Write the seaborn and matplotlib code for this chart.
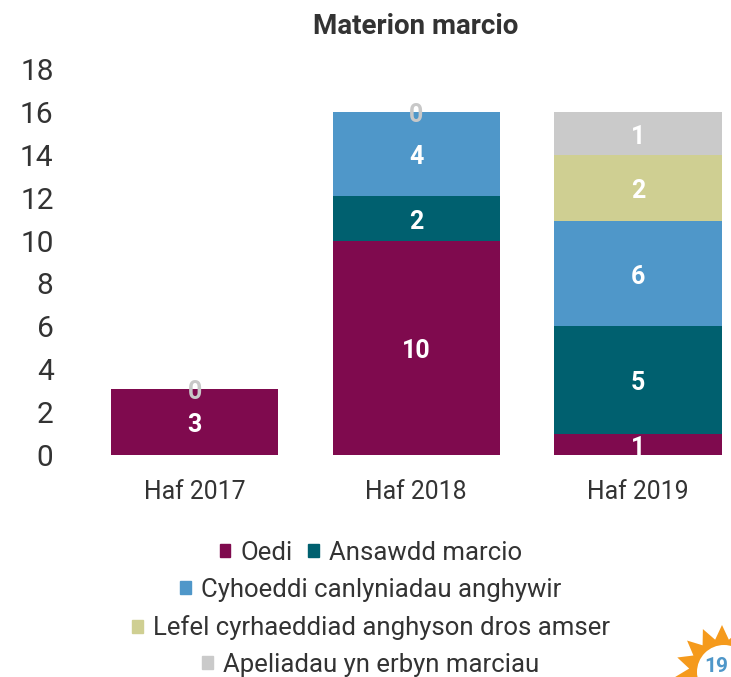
import numpy as np
import pandas as pd
import seaborn as sns
import matplotlib.pyplot as plt
from matplotlib.patches import Polygon, Circle, Patch

sns.set_theme(style="white")
plt.rcParams['font.family'] = ['Roboto', 'DejaVu Sans']

years = ['Haf 2017', 'Haf 2018', 'Haf 2019']
oedi = [3.1, 10, 1]
ansawdd = [0, 2.1, 5]
cyhoeddi = [0, 3.9, 4.9]
lefel = [0, 0, 3.1]
apeliadau = [0, 0, 2]

labels_oedi = ['3', '10', '1']
labels_ansawdd = ['', '2', '5']
labels_cyhoeddi = ['', '4', '6']
labels_lefel = ['', '', '2']
labels_apel = ['0', '0', '1']

names = ['Oedi', 'Ansawdd marcio', 'Cyhoeddi canlyniadau anghywir',
         'Lefel cyrhaeddiad anghyson dros amser', 'Apeliadau yn erbyn marciau']
colors = ['#7f0a4e', '#00606f', '#4f97c9', '#cfcf92', '#cacaca']

fig = plt.figure(figsize=(7.31, 6.77), dpi=100)
ax = fig.add_axes([55 / 731, 1 - 455 / 677, (731 - 55) / 731, (455 - 69) / 677])

series = [oedi, ansawdd, cyhoeddi, lefel, apeliadau]
texts = [labels_oedi, labels_ansawdd, labels_cyhoeddi, labels_lefel, labels_apel]
bottom = np.zeros(3)
for vals, col, name, txt in zip(series, colors, names, texts):
    df = pd.DataFrame({'year': years, 'val': vals})
    sns.barplot(data=df, x='year', y='val', color=col, saturation=1, width=0.755,
                bottom=bottom, ax=ax, label=name, legend=False, linewidth=0)
    for i, t in enumerate(txt):
        if t:
            mid = bottom[i] + vals[i] / 2
            c = '#c8c8c8' if t == '0' else 'white'
            ax.annotate(t, (i, mid), xytext=(0, -2.5), textcoords='offset points',
                        ha='center', va='center', color=c, fontsize=18, fontweight='bold')
    bottom = bottom + np.array(vals)

ax.set_xlim(-0.63, 2.42)
ax.set_ylim(0, 18)
ax.set_yticks(range(0, 19, 2))
ax.set_xlabel('')
ax.set_ylabel('')
ax.tick_params(axis='y', labelsize=21.5, colors='#333333', pad=1, length=0)
ax.tick_params(axis='x', labelsize=17.8, colors='#333333', pad=18, length=0)
sns.despine(ax=ax, left=True, bottom=True)
ax.patch.set_alpha(0)

fig.text(416 / 731, 1 - 26 / 677, 'Materion marcio', ha='center', va='center',
         fontsize=20, fontweight='bold', color='#333333')

# legend rows are centred, one or two entries per row
rows = [([0, 1], 553), ([2], 590), ([3], 628), ([4], 665)]
for idx, y in rows:
    handles = [Patch(color=colors[i], label=names[i]) for i in idx]
    fig.legend(handles=handles, loc='center', bbox_to_anchor=(371 / 731, 1 - y / 677),
               ncol=len(idx), frameon=False, fontsize=18.5, labelcolor='#333333',
               handlelength=0.42, handleheight=0.42, handletextpad=0.4, columnspacing=0.6,
               borderpad=0)

# page number badge, cut off by the corner of the page
badge = fig.add_axes([0, 0, 1, 1], zorder=5)
badge.set_xlim(0, 731)
badge.set_ylim(677, 0)
badge.axis('off')
angles = np.deg2rad(np.arange(0, 360, 12))
radii = np.where(np.arange(30) % 2 == 0, 47, 33)
star = np.column_stack([722 + radii * np.cos(angles + np.pi / 2), 672 - radii * np.sin(angles + np.pi / 2)])
badge.add_patch(Polygon(star, color='#f59a1c', lw=0))
badge.add_patch(Circle((724, 672), 27, color='white', lw=0))
badge.text(716, 666, '19', ha='center', va='center', color='#4f97c9', fontsize=15, fontweight='bold')

plt.savefig('out.png', dpi=100)
